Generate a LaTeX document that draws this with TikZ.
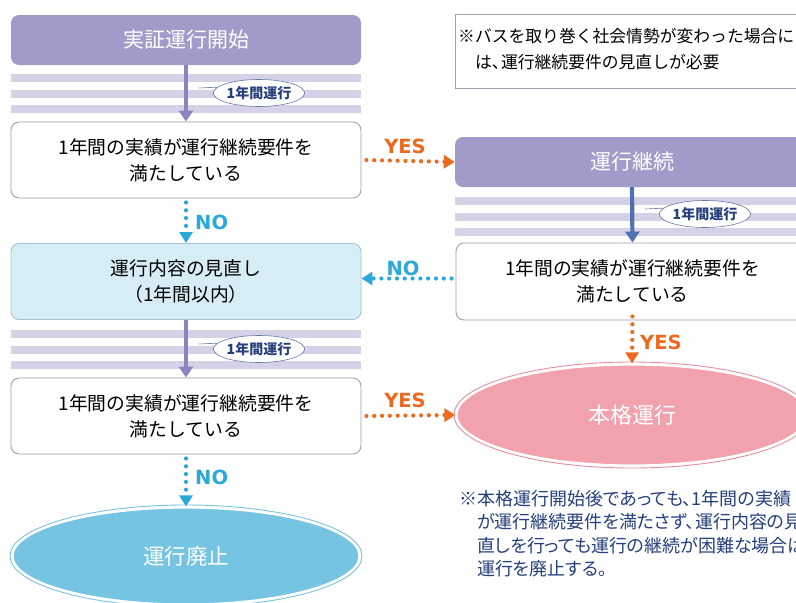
\documentclass[tikz,border=0pt]{standalone}
\usepackage{fontspec}
\setmainfont[AutoFakeSlant=0.2]{Noto Sans CJK JP}
\newfontfamily\labelfont{DejaVu Sans}
\newfontfamily\paltfont[RawFeature=+palt]{Noto Sans CJK JP}
\newcommand{\hcomma}{、\kern-0.45em}
\usetikzlibrary{arrows.meta,shapes.geometric}
\definecolor{purpbox}{HTML}{A29BCA}
\definecolor{stripe}{HTML}{D5D2E8}
\definecolor{purparrow}{HTML}{8C84BE}
\definecolor{bluearrow}{HTML}{4E72B2}
\definecolor{cyanc}{HTML}{2AA9DA}
\definecolor{lightblue}{HTML}{D7EDF6}
\definecolor{lbborder}{HTML}{A8C4D4}
\definecolor{endfill}{HTML}{74C4E2}
\definecolor{pinkfill}{HTML}{F2A2AD}
\definecolor{pinkline}{HTML}{E48F9D}
\definecolor{orangec}{HTML}{EC6A1F}
\definecolor{navy}{HTML}{26407E}
\definecolor{boxline}{HTML}{A0A0AC}
\tikzset{
  titlebox/.style={rectangle, rounded corners=8pt, fill=purpbox, text=white, font=\fontsize{21}{24}\selectfont, minimum width=#1, minimum height=50pt, inner sep=0pt},
  qbox/.style={rectangle, rounded corners=8pt, draw=boxline, line width=0.9pt, fill=white, font=\fontsize{18.8}{26}\selectfont, align=center, minimum width=#1, minimum height=76pt, inner sep=0pt},
  stripebar/.style={fill=stripe, draw=none},
  solidarrow/.style={line width=4.2pt, -{Triangle[length=11pt,width=14pt]}},
  dotarrow/.style={line width=4.2pt, line cap=round, dash pattern=on 0pt off 7.8pt, -{Triangle[length=11pt,width=13pt]}},
  yeslabel/.style={text=orangec, font=\labelfont\fontsize{19.5}{22}\selectfont\bfseries, inner sep=0pt},
  nolabel/.style={text=cyanc, font=\labelfont\fontsize{19.5}{22}\selectfont\bfseries, inner sep=0pt},
  callout/.style={ellipse, draw=navy!70, line width=0.6pt, fill=white, text=navy, font=\fontsize{14}{16}\selectfont\bfseries, minimum width=82pt, minimum height=27pt, inner sep=0pt},
  notetext/.style={align=left, inner sep=0pt, anchor=north west},
}
\begin{document}
\begin{tikzpicture}[x=1pt,y=-1pt]
\useasboundingbox (0,0) rectangle (796,603);
\clip (0,0) rectangle (796,603);
\fill[white] (0,0) rectangle (796,603);

% stripes left
\foreach \yy in {74,89.5,105}{\fill[stripebar] (11,\yy) rectangle (361,\yy+8);}
\foreach \yy in {330,345.5,361}{\fill[stripebar] (11,\yy) rectangle (361,\yy+8);}
% stripes right
\foreach \yy in {197,212.5,228}{\fill[stripebar] (455,\yy) rectangle (810,\yy+8);}

% left column
\node[titlebox=350pt] (start) at (186,40) {実証運行開始};
\node[qbox=350pt] (q1) at (186,160) {1年間の実績が運行継続要件を\\満たしている};
\node[qbox=350pt, fill=lightblue, draw=lbborder] (rev) at (186,281.5) {運行内容の見直し\\（1年間以内）};
\node[qbox=350pt] (q3) at (186,416) {1年間の実績が運行継続要件を\\満たしている};
\draw[endfill, line width=0.9pt] (186,556) ellipse [x radius=176pt, y radius=51pt];
\node[ellipse, fill=endfill, draw=white, line width=2.2pt, minimum width=347pt, minimum height=97pt, inner sep=0pt, text=white, font=\fontsize{21.5}{24}\selectfont] (stop) at (186,556) {運行廃止};

% right column
\node[draw=boxline, line width=0.8pt, fill=white, minimum width=350pt, minimum height=74pt, anchor=north west, inner sep=0pt] (notebox) at (455,14) {};
\node[notetext, font=\fontsize{16.8}{26}\selectfont] (notetxt) at (458,28) {※バスを取り巻く社会情勢が変わった場合に\\　は\hcomma 運行継続要件の見直しが必要};
\node[titlebox=354pt] (cont) at (632,162) {運行継続};
\node[qbox=353pt, minimum height=77pt] (q2) at (632.5,281.5) {1年間の実績が運行継続要件を\\満たしている};
\draw[pinkline, line width=0.9pt] (632,415) ellipse [x radius=178pt, y radius=53pt];
\node[ellipse, fill=pinkfill, draw=white, line width=2.2pt, minimum width=351pt, minimum height=101pt, inner sep=0pt, text=white, font=\fontsize{22}{24}\selectfont] (full) at (632,415) {本格運行};
\node[notetext, text=navy, font=\paltfont\fontsize{18}{23.5}\selectfont] (note2) at (459,490) {※本格運行開始後であっても、1年間の実績\\\hspace*{18pt}が運行継続要件を満たさず、運行内容の見\\\hspace*{18pt}直しを行っても運行の継続が困難な場合は、\\\hspace*{18pt}運行を廃止する。};

% solid arrows
\draw[solidarrow, purparrow] (start.south) -- (q1.north);
\draw[solidarrow, purparrow] (rev.south) -- (q3.north);
\draw[solidarrow, bluearrow] (cont.south) -- (q2.north);

% callouts
\coordinate (t1) at (199,88);
\node[callout] (c1) at (259,93) {\textit{1}年間運行};
\draw[navy!70, line width=0.6pt] (t1) -- (c1.172);
\coordinate (t2) at (199,344);
\node[callout] (c2) at (259,349) {\textit{1}年間運行};
\draw[navy!70, line width=0.6pt] (t2) -- (c2.172);
\coordinate (t3) at (645,209);
\node[callout] (c3) at (705,214) {\textit{1}年間運行};
\draw[navy!70, line width=0.6pt] (t3) -- (c3.172);

% dotted decision arrows
\draw[dotarrow, orangec] ([xshift=5pt]q1.east) -- (cont.west);
\node[yeslabel] (y1) at (405,146) {YES};
\draw[dotarrow, cyanc] ([yshift=-4pt]q1.south) -- (rev.north);
\node[nolabel, anchor=west] (n1) at (195,222) {NO};
\draw[dotarrow, cyanc] ([xshift=-4pt,yshift=3pt]q2.west) -- ([yshift=3pt]rev.east);
\node[nolabel] (n2) at (403,268) {NO};
\draw[dotarrow, orangec] ([yshift=4pt]q2.south) -- (full.north);
\node[yeslabel, anchor=west] (y2) at (640,342) {YES};
\draw[dotarrow, orangec] ([xshift=5pt]q3.east) -- (full.west);
\node[yeslabel] (y3) at (405,400) {YES};
\draw[dotarrow, cyanc] ([yshift=-4pt]q3.south) -- (stop.north);
\node[nolabel, anchor=west] (n3) at (195,477) {NO};
\end{tikzpicture}
\end{document}
